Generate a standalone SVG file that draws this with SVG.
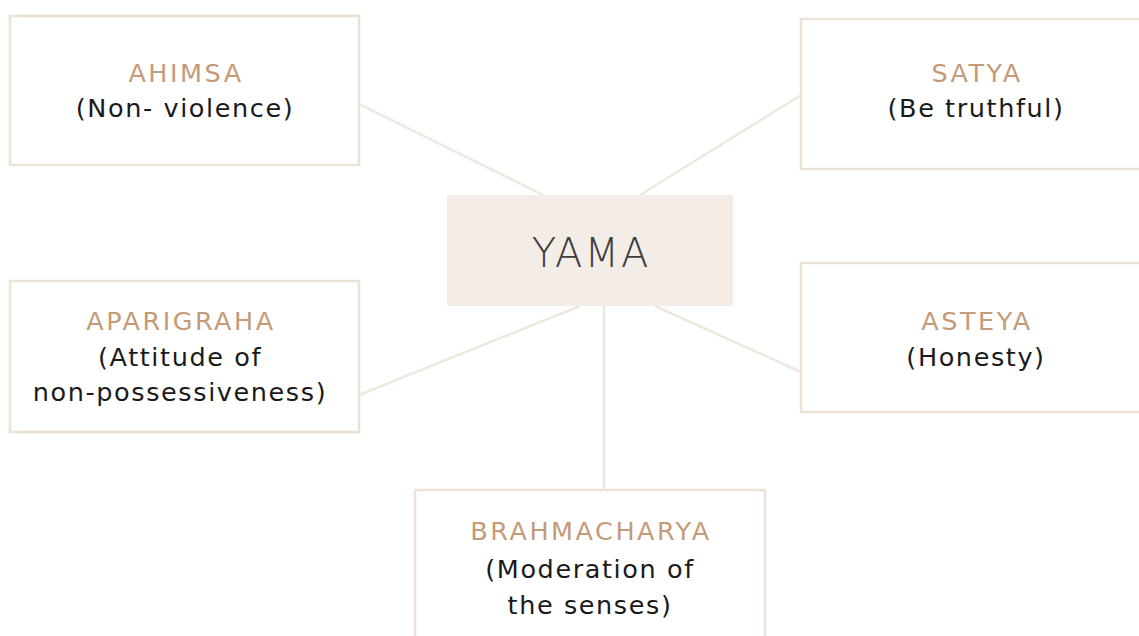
<svg xmlns="http://www.w3.org/2000/svg" width="1139" height="636" viewBox="0 0 1139 636">
<style>
.box{fill:#ffffff;stroke:#ebe3d3;stroke-width:2.5}
.hub{fill:#f4ece6}
.t{font-family:"DejaVu Sans","Liberation Sans",sans-serif;font-size:25.5px;letter-spacing:2.5px;fill:#c49a78;text-anchor:middle}
.d{font-family:"DejaVu Sans","Liberation Sans",sans-serif;font-size:25.5px;letter-spacing:1.6px;fill:#1a1a1a;text-anchor:middle}
.h{font-family:"DejaVu Sans","Liberation Sans",sans-serif;font-size:40px;font-weight:200;letter-spacing:2px;fill:#3e3e3e;text-anchor:middle}
.c{stroke:#efe8dc;stroke-width:2.5;fill:none}
</style>
<rect width="1139" height="636" fill="#ffffff"/>
<g id="connectors">
<line class="c" x1="359" y1="104" x2="543" y2="195"/>
<line class="c" x1="801" y1="95" x2="640" y2="195"/>
<line class="c" x1="359" y1="395" x2="580" y2="306"/>
<line class="c" x1="801" y1="372" x2="655" y2="306"/>
<line class="c" x1="604" y1="306" x2="604" y2="490"/>
</g>
<g id="yama">
<rect class="hub" x="447" y="195" width="286" height="111"/>
<text class="h" x="591" y="267">YAMA</text>
</g>
<g id="ahimsa">
<rect class="box" x="10" y="16" width="349" height="149"/>
<text class="t" x="186" y="82">AHIMSA</text>
<text class="d" x="185" y="117">(Non- violence)</text>
</g>
<g id="satya">
<rect class="box" x="801" y="19" width="360" height="150"/>
<text class="t" x="977" y="82">SATYA</text>
<text class="d" x="976" y="117">(Be truthful)</text>
</g>
<g id="aparigraha">
<rect class="box" x="10" y="281" width="349" height="151"/>
<text class="t" x="181" y="330">APARIGRAHA</text>
<text class="d" x="180" y="366">(Attitude of</text>
<text class="d" x="180" y="401">non-possessiveness)</text>
</g>
<g id="asteya">
<rect class="box" x="801" y="263" width="360" height="149"/>
<text class="t" x="977" y="330">ASTEYA</text>
<text class="d" x="976" y="366">(Honesty)</text>
</g>
<g id="brahmacharya">
<rect class="box" x="415" y="490" width="350" height="170"/>
<text class="t" x="591" y="540">BRAHMACHARYA</text>
<text class="d" x="590" y="578">(Moderation of</text>
<text class="d" x="590" y="614">the senses)</text>
</g>
</svg>
